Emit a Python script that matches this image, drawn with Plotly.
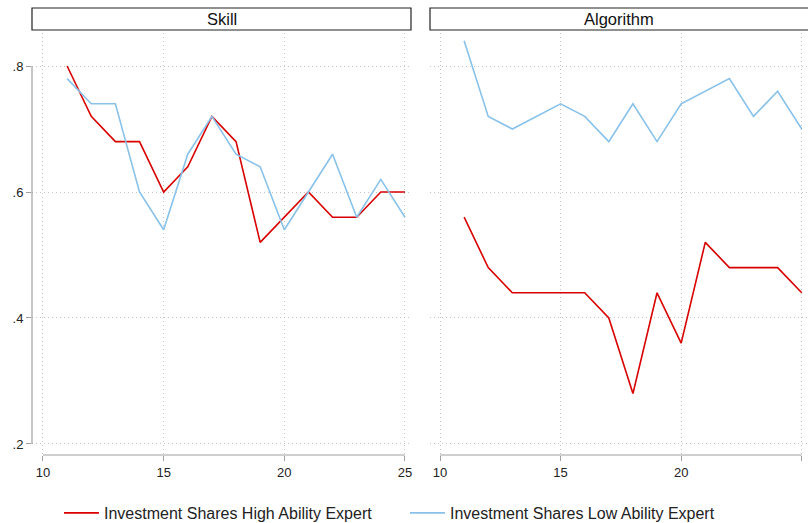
import plotly.graph_objects as go

x_vals = list(range(11, 26))
panels = ["Skill", "Algorithm"]
skill_high = [0.80, 0.72, 0.68, 0.68, 0.60, 0.64, 0.72, 0.68, 0.52, 0.56, 0.60, 0.56, 0.56, 0.60, 0.60]
skill_low = [0.78, 0.74, 0.74, 0.60, 0.54, 0.66, 0.72, 0.66, 0.64, 0.54, 0.60, 0.66, 0.56, 0.62, 0.56]
algo_high = [0.56, 0.48, 0.44, 0.44, 0.44, 0.44, 0.40, 0.28, 0.44, 0.36, 0.52, 0.48, 0.48, 0.48, 0.44]
algo_low = [0.84, 0.72, 0.70, 0.72, 0.74, 0.72, 0.68, 0.74, 0.68, 0.74, 0.76, 0.78, 0.72, 0.76, 0.70]
series_names = ["Investment Shares High Ability Expert", "Investment Shares Low Ability Expert"]
x_ticks = [10, 15, 20, 25]
y_ticks = [0.2, 0.4, 0.6, 0.8]
y_ticklabels = [".2", ".4", ".6", ".8"]

RED = "#d80000"
BLUE = "#88c2ea"
AXIS = "#a0a0a0"
FONT = "Liberation Sans, Arial"
W, H = 808, 523
ML, MR, MT, MB = 32, 0, 33, 68
pw = W - ML - MR
ph = H - MT - MB


def px(p):
    return (p - ML) / pw


def py(p):
    return (H - MB - p) / ph


fig = go.Figure()
fig.add_trace(go.Scatter(x=x_vals, y=skill_high, mode="lines", name=series_names[0],
                         line=dict(color=RED, width=1.6), xaxis="x", yaxis="y"))
fig.add_trace(go.Scatter(x=x_vals, y=skill_low, mode="lines", name=series_names[1],
                         line=dict(color=BLUE, width=1.6), xaxis="x", yaxis="y"))
fig.add_trace(go.Scatter(x=x_vals, y=algo_high, mode="lines", name=series_names[0],
                         line=dict(color=RED, width=1.6), xaxis="x2", yaxis="y2", showlegend=False))
fig.add_trace(go.Scatter(x=x_vals, y=algo_low, mode="lines", name=series_names[1],
                         line=dict(color=BLUE, width=1.6), xaxis="x2", yaxis="y2", showlegend=False))

grid = dict(showgrid=True, gridcolor="#c4c4c4", griddash="1px,3px", gridwidth=1,
            zeroline=False, automargin=False, showline=False)
tickfont = dict(family=FONT, size=13, color="#222")
xcommon = dict(tickvals=x_ticks, ticks="outside", ticklen=5, tickcolor=AXIS, tickwidth=1.2,
               tickfont=tickfont, **grid)

yrange = [0.1825, 0.8524]
fig.update_layout(
    template="none",
    width=W, height=H,
    margin=dict(l=ML, r=MR, t=MT, b=MB, autoexpand=False),
    paper_bgcolor="white", plot_bgcolor="white",
    font=dict(family=FONT, size=13, color="#222"),
    xaxis=dict(domain=[px(32), px(411)], range=[9.545, 25.25], anchor="y", **xcommon),
    xaxis2=dict(domain=[px(430), 1.0], range=[9.585, 25.26], anchor="y2", **xcommon),
    yaxis=dict(domain=[0, 1], range=yrange, tickvals=y_ticks, ticktext=y_ticklabels,
               ticks="outside", ticklen=5, tickcolor=AXIS, tickwidth=1.2, anchor="x",
               tickfont=tickfont, **grid),
    yaxis2=dict(domain=[0, 1], range=yrange, tickvals=y_ticks, showticklabels=False,
                ticks="", anchor="x2", **grid),
    showlegend=True,
    legend=dict(orientation="h", x=px(59), xanchor="left", y=py(513), yanchor="middle",
                font=dict(family=FONT, size=16, color="#222"),
                entrywidth=296, entrywidthmode="pixels", itemwidth=35,
                bgcolor="rgba(0,0,0,0)", borderwidth=0),
)

# axis lines spanning only the tick range (Stata style)
for xr in ["x", "x2"]:
    fig.add_shape(type="line", xref=xr, yref="paper", x0=x_ticks[0], x1=x_ticks[-1],
                  y0=0, y1=0, line=dict(color=AXIS, width=1.2), layer="above")
fig.add_shape(type="line", xref="paper", yref="y", x0=0, x1=0, y0=y_ticks[0], y1=y_ticks[-1],
              line=dict(color=AXIS, width=1.2), layer="above")

# panel header strips
strips = [(32, 411), (430, 815)]
label_centers = [221.5, 619]
for (a, b), title, c in zip(strips, panels, label_centers):
    fig.add_shape(type="rect", xref="paper", yref="paper", x0=px(a), x1=px(b),
                  y0=py(30), y1=py(8), line=dict(color="#222", width=1.2), fillcolor="white")
    fig.add_annotation(xref="paper", yref="paper", x=px(c), y=(py(30) + py(8)) / 2,
                       text=title, showarrow=False,
                       font=dict(family=FONT, size=16.5, color="#111"),
                       xanchor="center", yanchor="middle")

fig.write_html("out.html", config={"displayModeBar": False},
               post_script="document.body.style.margin='0';document.body.style.overflow='hidden';")
